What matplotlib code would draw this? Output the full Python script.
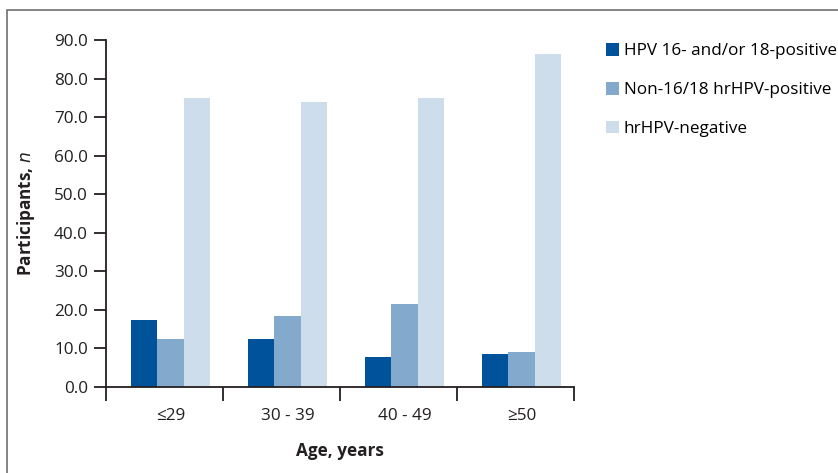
import matplotlib.pyplot as plt
import matplotlib.patches as mpatches
from matplotlib.ticker import FixedLocator, NullFormatter
import numpy as np

plt.rcParams['font.family'] = ['Open Sans', 'DejaVu Sans']

# data
age_groups = ['≤29', '30 - 39', '40 - 49', '≥50']
hpv1618 = [17.4, 12.5, 7.9, 8.6]
non1618 = [12.5, 18.3, 21.6, 9.2]
negative = [75.0, 73.9, 75.0, 86.4]
series_names = ['HPV 16- and/or 18-positive', 'Non-16/18 hrHPV-positive', 'hrHPV-negative']
colors = ['#00529B', '#83A9CD', '#CDDDEC']

fs = 12.3

fig = plt.figure(figsize=(8.38, 4.73), dpi=100)
ax = fig.add_axes([106/838, 1-387/473, (574-106)/838, (387-40)/473])

x = np.arange(len(age_groups))
w = 0.225
shift = 0.05
for k, (vals, name, c) in enumerate(zip([hpv1618, non1618, negative], series_names, colors)):
    ax.bar(x + shift + (k-1)*w, vals, width=w, color=c, label=name)

ax.set_xlim(-0.5, len(age_groups)-0.5)
ax.set_ylim(0, 90)
ax.set_yticks(np.arange(0, 91, 10))
ax.set_yticklabels([f'{v:.1f}' for v in np.arange(0, 91, 10)], fontsize=fs, color='#231F20')
ax.set_xticks(x + shift)
ax.set_xticklabels(age_groups, fontsize=fs, color='#231F20')
ax.tick_params(axis='x', which='major', length=0, pad=15)
ax.xaxis.set_minor_locator(FixedLocator(np.arange(-0.5, len(age_groups), 1.0)))
ax.xaxis.set_minor_formatter(NullFormatter())
ax.tick_params(axis='x', which='minor', length=10, width=1.3, direction='out', color='#231F20')
ax.tick_params(axis='y', length=9, width=1.3, direction='out', color='#231F20', pad=4)

for s in ['top', 'right']:
    ax.spines[s].set_visible(False)
for s in ['left', 'bottom']:
    ax.spines[s].set_linewidth(1.3)
    ax.spines[s].set_color('#231F20')

ax.set_xlabel('Age, years', fontsize=fs, fontweight='bold', labelpad=13, color='#231F20')
ax.set_ylabel(r'Participants, $\mathbf{\mathit{n}}$', fontsize=fs, fontweight='bold',
              labelpad=12, color='#231F20')

ax.legend(loc='upper left', bbox_to_anchor=(1.035, 1.035), frameon=False, fontsize=fs,
          handlelength=0.75, handleheight=0.75, handletextpad=0.3, labelspacing=1.32)

# grey frame around the figure
fig.patches.append(mpatches.Rectangle((7/838, -0.05), 1.1, 1-10/473+0.05, transform=fig.transFigure,
                                      fill=False, edgecolor='#6D6E71', linewidth=1.2))

fig.savefig('out.png', dpi=100)
